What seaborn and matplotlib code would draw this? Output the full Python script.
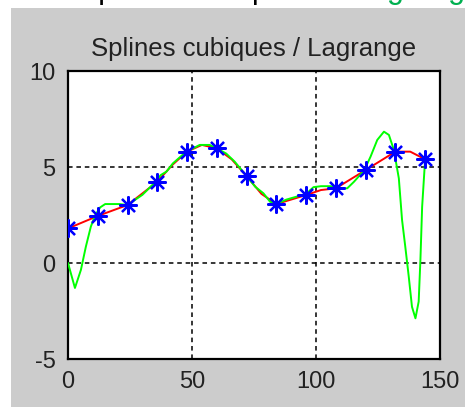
import numpy as np
import pandas as pd
import matplotlib
matplotlib.use("Agg")
import matplotlib.pyplot as plt
import seaborn as sns
from matplotlib.patches import Rectangle

# ---- data ----
# interpolation nodes (blue stars)
x_nodes = [0, 12, 24, 36, 48, 60, 72, 84, 96, 108, 120, 132, 144]
y_nodes = [1.8, 2.45, 3.02, 4.23, 5.8, 5.97, 4.53, 3.07, 3.54, 3.89, 4.84, 5.8, 5.4]

# cubic spline curve (red)
x_spline = [0, 12, 24, 36, 42, 48, 54, 60, 66, 72, 78, 84, 96, 102, 108, 120, 132, 138, 144]
y_spline = [1.8, 2.45, 3.02, 4.23, 5.1, 5.8, 6.15, 5.97, 5.4, 4.53, 3.6, 3.07, 3.54, 3.8,
            3.89, 4.84, 5.8, 5.8, 5.4]

# Lagrange polynomial curve (green)
x_lagr = [0, 2.8, 5.2, 7.2, 9.2, 11, 13, 15, 20.6, 24, 30, 35.1, 37.4, 39.7, 42.3, 47.7,
          50.4, 53.1, 57.1, 60, 63.8, 67.2, 72, 75.5, 78.8, 81.5, 84, 88, 92, 96, 99, 102,
          106, 108, 112.6, 115.3, 119.5, 122, 124.7, 127.4, 129.4, 131.4, 133.4, 134.7,
          136, 137.4, 138.7, 140.1, 141.4, 142.1, 142.8, 144]
y_lagr = [0.0, -1.3, -0.36, 0.85, 1.89, 2.5, 2.9, 3.07, 3.07, 3.02, 3.55, 4.2, 4.58, 4.76,
          5.19, 5.8, 5.97, 6.15, 6.15, 5.97, 5.7, 5.28, 4.53, 3.97, 3.63, 3.19, 3.07, 3.3,
          3.45, 3.6, 3.95, 4.0, 4.0, 3.89, 3.89, 4.23, 4.84, 5.54, 6.41, 6.84, 6.67, 5.89,
          4.41, 2.24, 0.85, -0.71, -2.28, -2.88, -2.01, 0.16, 2.93, 5.4]

title = "Splines cubiques / Lagrange"
x_ticks = [0, 50, 100, 150]
y_ticks = [-5, 0, 5, 10]
top_black = "splines cubiques et "
top_green = "Lagrange"

df_s = pd.DataFrame({"x": x_spline, "y": y_spline})
df_l = pd.DataFrame({"x": x_lagr, "y": y_lagr})
df_p = pd.DataFrame({"x": x_nodes, "y": y_nodes})

sns.set_theme(style="white")
plt.rcParams["font.family"] = ["Liberation Sans", "DejaVu Sans"]
plt.rcParams["axes.unicode_minus"] = False

W, H = 465, 407
fig = plt.figure(figsize=(W / 100, H / 100), dpi=100, facecolor="white")
fig.patches.append(Rectangle((11 / W, 0), 1 - 11 / W, 1 - 8 / H, transform=fig.transFigure,
                             facecolor="#cccccc", edgecolor="none", zorder=-5))
fig.text(350 / W, 1 + 2.0 / H, top_black, color="black", fontsize=22,
         ha="right", va="baseline")
fig.text(354 / W, 1 + 2.0 / H, top_green, color="#00b050", fontsize=22,
         ha="left", va="baseline")

ax = fig.add_axes([68 / W, 1 - 359 / H, (440 - 68) / W, (359 - 71) / H])
ax.set_zorder(1)
ax.set_facecolor("white")

sns.lineplot(data=df_s, x="x", y="y", ax=ax, color="#ff0000", lw=1.4, zorder=3,
             sort=False, estimator=None)
sns.lineplot(data=df_l, x="x", y="y", ax=ax, color="#00ff00", lw=1.4, zorder=4,
             sort=False, estimator=None)
sns.lineplot(data=df_p, x="x", y="y", ax=ax, color="blue", linestyle="", marker=(8, 2, 0),
             markersize=13, markeredgewidth=1.6, markeredgecolor="blue", zorder=5,
             estimator=None)

ax.set_xlim(0, 150)
ax.set_ylim(-5, 10)
ax.set_xticks(x_ticks)
ax.set_yticks(y_ticks)
ax.set_xlabel("")
ax.set_ylabel("")
for v in [50, 100]:
    ax.axvline(v, color="black", lw=1.1, ls=(0, (3, 2.5)), zorder=2)
for v in [0, 5]:
    ax.axhline(v, color="black", lw=1.1, ls=(0, (3, 2.5)), zorder=2)
for s in ax.spines.values():
    s.set_color("black")
    s.set_linewidth(1.6)
    s.set_visible(True)
ax.tick_params(direction="in", length=5, width=1, colors="black", labelsize=17,
               pad=9, labelcolor="#222222")
ax.set_title(title, fontsize=18.5, pad=11, color="#222222")

fig.savefig("out.png", dpi=100, facecolor=fig.get_facecolor())
